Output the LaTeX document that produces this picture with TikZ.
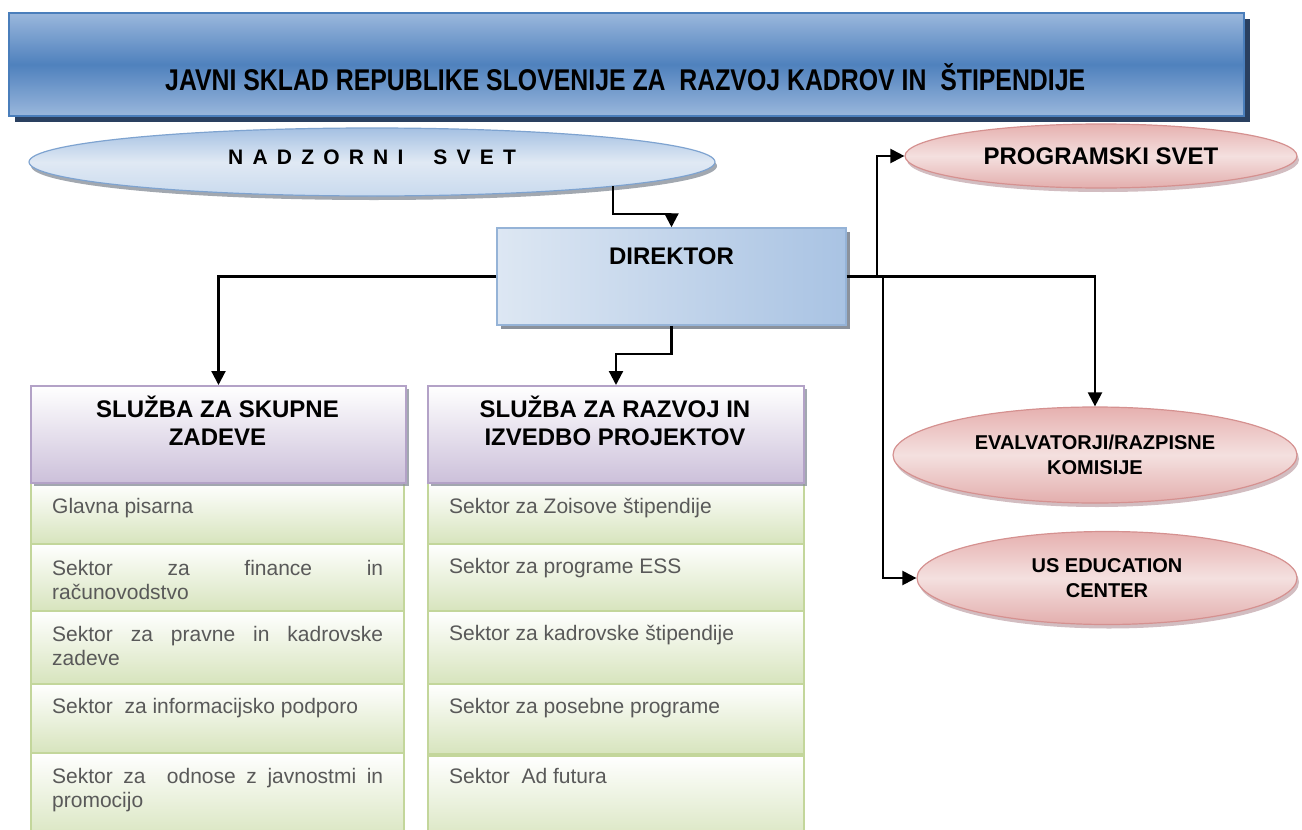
\documentclass[tikz,border=0pt]{standalone}
\usepackage{fontspec}
\usepackage{graphicx}
\setmainfont{Liberation Sans}
\usetikzlibrary{shapes.geometric,arrows.meta,shadows,calc}
\definecolor{bannertop}{HTML}{9AB7DC}
\definecolor{bannermid}{HTML}{4F81BD}
\definecolor{bannerborder}{HTML}{4A7EBB}
\definecolor{bannershadow}{HTML}{2A4060}
\definecolor{nadtop}{HTML}{A4C0E2}
\definecolor{nadmid}{HTML}{E0E9F4}
\definecolor{nadbot}{HTML}{C9DAEE}
\definecolor{nadborder}{HTML}{7EA3D0}
\definecolor{dirlight}{HTML}{DDE7F3}
\definecolor{dirdark}{HTML}{A9C3E3}
\definecolor{dirborder}{HTML}{95B3D7}
\definecolor{redtop}{HTML}{E6B0AF}
\definecolor{redmid}{HTML}{F4E0DF}
\definecolor{redbot}{HTML}{E3AEAD}
\definecolor{redborder}{HTML}{D59190}
\definecolor{purp}{HTML}{CCC0DA}
\definecolor{purpborder}{HTML}{B3A2C7}
\definecolor{greenfill}{HTML}{D7E4BD}
\definecolor{greenborder}{HTML}{C3D69B}
\definecolor{rowgray}{HTML}{595959}
\definecolor{shadowgray}{HTML}{8B929C}
\begin{document}
\begin{tikzpicture}[x=1pt,y=-1pt,
  banner/.style={rectangle, draw=bannerborder, line width=2pt, top color=bannertop, bottom color=bannertop, middle color=bannermid, inner sep=0pt,
    drop shadow={shadow xshift=6pt, shadow yshift=-6pt, fill=bannershadow, opacity=1}},
  nadz/.style={ellipse, draw=nadborder, line width=1.2pt, top color=nadtop, bottom color=nadbot, middle color=nadmid, inner sep=0pt,
    drop shadow={shadow xshift=2pt, shadow yshift=-4pt, fill=shadowgray, opacity=0.8}},
  redell/.style={ellipse, draw=redborder, line width=1.2pt, top color=redtop, bottom color=redbot, middle color=redmid, inner sep=0pt, align=center,
    font=\fontsize{20}{24.5}\selectfont\bfseries,
    drop shadow={shadow xshift=2pt, shadow yshift=-4pt, fill=shadowgray!80!red!60!white, opacity=0.8}},
  dirbox/.style={rectangle, draw=dirborder, line width=1.5pt, left color=dirlight, right color=dirdark, inner sep=0pt,
    drop shadow={shadow xshift=4pt, shadow yshift=-4pt, fill=shadowgray, opacity=1}},
  headbox/.style={rectangle, draw=purpborder, line width=2pt, top color=white, bottom color=purp, inner sep=0pt,
    drop shadow={shadow xshift=3pt, shadow yshift=-3pt, fill=shadowgray, opacity=0.8}},
  rowbox/.style={rectangle, draw=greenborder, line width=2pt, top color=white, bottom color=greenfill, inner sep=0pt, anchor=north west},
  bold/.style={inner sep=0pt, font=\fontsize{24}{28}\selectfont\bfseries, align=center},
  rowtext/.style={inner sep=0pt, anchor=base west, text=rowgray, font=\fontsize{21}{24}\selectfont},
  conn/.style={draw=black, line width=2.2pt, -{Triangle[length=14pt,width=14pt]}}
]
\useasboundingbox (0,0) rectangle (1302,830);
\clip (0,0) rectangle (1302,830);

% banner
\node[banner, minimum width=1235pt, minimum height=103pt, anchor=north west] (banner) at (8,12) {};
\node[inner sep=0pt, anchor=base west] (title) at (165,90)
  {\resizebox{920pt}{\height}{\fontsize{30}{36}\selectfont\bfseries JAVNI SKLAD REPUBLIKE SLOVENIJE ZA\ \ RAZVOJ KADROV IN\ \ ŠTIPENDIJE}};

% nadzorni svet
\node[nadz, minimum width=686pt, minimum height=68pt] (nad) at (372,162) {};
\node[inner sep=0pt, anchor=base west, font=\fontsize{21}{24}\selectfont\bfseries] (nadtext) at (228,164)
  {N\kern9.2pt A\kern9.2pt D\kern9.2pt Z\kern9.2pt O\kern9.2pt R\kern9.2pt N\kern9.2pt I\kern30pt S\kern9.2pt V\kern9.2pt E\kern9.2pt T};

% direktor
\node[dirbox, minimum width=349pt, minimum height=97pt] (dir) at (671.5,276.5) {};
\node[bold, anchor=base] (dirtext) at (671.5,264) {DIREKTOR};

% right ellipses
\node[redell, minimum width=392pt, minimum height=64pt, font=\fontsize{24}{28}\selectfont\bfseries] (ps) at (1101,156) {PROGRAMSKI SVET};
\node[redell, minimum width=404pt, minimum height=96pt] (ev) at (1095,455) {EVALVATORJI/RAZPISNE\\KOMISIJE};
\node[redell, minimum width=380pt, minimum height=93pt] (us) at (1107,578) {US EDUCATION\\CENTER};

% left column
\node[rowbox, minimum width=373pt, minimum height=61pt] (L1) at (30,482) {};
\node[rowbox, minimum width=373pt, minimum height=67pt] (L2) at (30,543) {};
\node[rowbox, minimum width=373pt, minimum height=73pt] (L3) at (30,610) {};
\node[rowbox, minimum width=373pt, minimum height=69pt] (L4) at (30,683) {};
\node[rowbox, minimum width=373pt, minimum height=90pt] (L5) at (30,752) {};
\node[headbox, minimum width=375pt, minimum height=97pt, anchor=north west] (hs) at (30,385) {};
\node[bold] (hstext) at (217.5,421) {SLUŽBA ZA SKUPNE\\ZADEVE};

\node[rowtext] (L1t) at (52,513) {Glavna pisarna};
\node[rowtext] (L2t) at (52,575) {\parbox[t]{331pt}{Sektor\hfill za\hfill finance\hfill in\\računovodstvo}};
\node[rowtext] (L3t) at (52,641) {\parbox[t]{331pt}{Sektor\hfill za\hfill pravne\hfill in\hfill kadrovske\\zadeve}};
\node[rowtext] (L4t) at (52,713) {Sektor\ \ za informacijsko podporo};
\node[rowtext] (L5t) at (52,783) {\parbox[t]{331pt}{Sektor\hfill za\hfill\hfill odnose\hfill z\hfill javnostmi\hfill in\\promocijo}};

% right column
\node[rowbox, minimum width=376pt, minimum height=61pt] (R1) at (427,482) {};
\node[rowbox, minimum width=376pt, minimum height=67pt] (R2) at (427,543) {};
\node[rowbox, minimum width=376pt, minimum height=73pt] (R3) at (427,610) {};
\node[rowbox, minimum width=376pt, minimum height=70pt] (R4) at (427,683) {};
\node[rowbox, minimum width=376pt, minimum height=90pt] (R5) at (427,755) {};
\node[headbox, minimum width=376pt, minimum height=97pt, anchor=north west] (hr) at (427,385) {};
\node[bold] (hrtext) at (615,421) {SLUŽBA ZA RAZVOJ IN\\IZVEDBO PROJEKTOV};

\node[rowtext] (R1t) at (449,513) {Sektor za Zoisove štipendije};
\node[rowtext] (R2t) at (449,573) {Sektor za programe ESS};
\node[rowtext] (R3t) at (449,640) {Sektor za kadrovske štipendije};
\node[rowtext] (R4t) at (449,713) {Sektor za posebne programe};
\node[rowtext] (R5t) at (449,783) {Sektor\ \ Ad futura};

% connectors
\draw[conn] ($(nad.center)+(241,24)$) -- ++(0,28) -| (dir.north);
\draw[conn] (dir.west) -| (hs.north);
\draw[conn] (dir.south) -- ++(0,28) -| (hr.north);
\draw[conn] (dir.east) -- ++(30,0) |- (ps.west);
\draw[conn] (dir.east) -| (ev.north);
\draw[conn] (dir.east) -- ++(36,0) |- (us.west);
\end{tikzpicture}
\end{document}
